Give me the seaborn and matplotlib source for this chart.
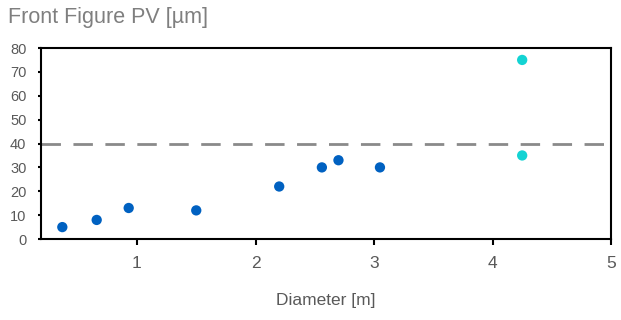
import pandas as pd
import seaborn as sns
import matplotlib.pyplot as plt

# data
diameter = [0.37, 0.66, 0.93, 1.5, 2.2, 2.56, 2.7, 3.05, 4.25, 4.25]
pv = [5, 8, 13, 12, 22, 30, 33, 30, 75, 35]
group = ['a'] * 8 + ['b'] * 2
limit = 40

df = pd.DataFrame({'diameter': diameter, 'pv': pv, 'group': group})

sns.set_style('white')
plt.rcParams['font.family'] = ['Liberation Sans', 'DejaVu Sans']

fig = plt.figure(figsize=(6.21, 3.2), dpi=100)
ax = fig.add_axes([0.066, 0.253, 0.918, 0.597])

sns.scatterplot(data=df, x='diameter', y='pv', hue='group',
                palette={'a': '#0061C1', 'b': '#13D3D3'},
                s=55, edgecolor='none', legend=False, ax=ax, zorder=3)
ax.axhline(limit, color='#8A8A8A', lw=2, dashes=(7, 4.5), zorder=2)

ax.set_xlim(0.19, 5)
ax.set_ylim(0, 80)
ax.set_xticks([1, 2, 3, 4, 5])
ax.set_yticks(range(0, 81, 10))
for s in ax.spines.values():
    s.set_color('black')
    s.set_linewidth(1.5)
ax.tick_params(bottom=True, left=True)
ax.tick_params(axis='x', direction='out', length=4, width=1.5, color='black',
               labelsize=12.5, labelcolor='#595959', pad=8)
ax.tick_params(axis='y', direction='out', length=2.5, width=1.5, color='black',
               labelsize=10.5, labelcolor='#595959', pad=8)
ax.set_xlabel('Diameter [m]', fontsize=12.5, color='#595959', labelpad=16)
ax.set_ylabel('')
fig.text(0.013, 0.978, 'Front Figure PV [µm]', fontsize=15.5, color='#7F7F7F',
         ha='left', va='top')

fig.savefig('out.png', dpi=100)
